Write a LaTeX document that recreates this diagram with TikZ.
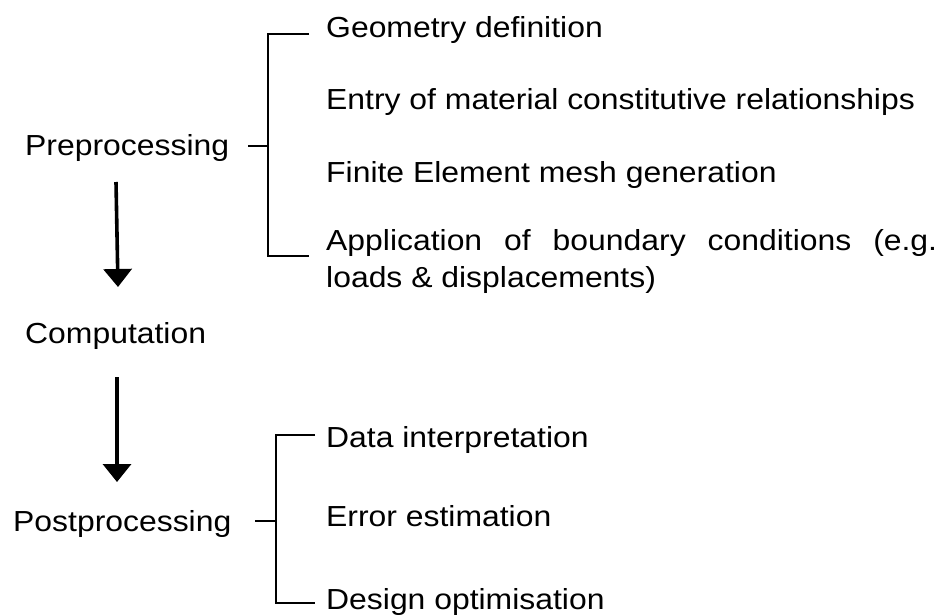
\documentclass[tikz,border=0pt]{standalone}
\usepackage{fontspec}
\setmainfont{Liberation Sans}
\newfontfamily\widef[FakeStretch=1.1]{Liberation Sans}
\usetikzlibrary{arrows.meta}
\begin{document}
\begin{tikzpicture}[x=1pt,y=-1pt,
  stagelbl/.style={anchor=base west,inner sep=0pt,font=\widef\fontsize{29}{37}\selectfont},
  preitem/.style={anchor=base west,inner sep=0pt,font=\widef\fontsize{29}{37}\selectfont},
  postitem/.style={anchor=base west,inner sep=0pt,font=\widef\fontsize{29}{37}\selectfont},
  brk/.style={line width=1.4pt},
  flow/.style={line width=3.6pt,-{Triangle[width=28pt,length=18pt]}}]
\useasboundingbox (0,0) rectangle (942,615);
% stages
\node[stagelbl] (pre) at (25,155) {Preprocessing};
\node[stagelbl] (comp) at (25,343) {Computation};
\node[stagelbl] (post) at (13,531) {Postprocessing};
% preprocessing items
\node[preitem] (geo) at (326,38) {Geometry definition};
\node[preitem] (mat) at (326,110) {Entry of material constitutive relationships};
\node[preitem] (fem) at (326,182) {Finite Element mesh generation};
\node[preitem] (app) at (326,250) {\hbox to 611pt{Application\hfill of\hfill boundary\hfill conditions\hfill (e.g.}};
\node[preitem] (app2) at (326,287) {loads \& displacements)};
% postprocessing items
\node[postitem] (dat) at (326,447) {Data interpretation};
\node[postitem] (err) at (326,526) {Error estimation};
\node[postitem] (des) at (326,609) {Design optimisation};
% brackets
\coordinate (pt0) at (248,146);
\coordinate (pt1) at (268,146);
\coordinate (ptt) at (268,34);
\coordinate (ptb) at (268,256);
\coordinate (ptte) at (309,34);
\coordinate (ptbe) at (309,256);
\draw[brk] (pt0) -- (pt1);
\draw[brk] (ptte) -- (ptt) -- (ptb) -- (ptbe);
\coordinate (qt0) at (255,521);
\coordinate (qt1) at (276,521);
\coordinate (qtt) at (276,435);
\coordinate (qtb) at (276,603);
\coordinate (qtte) at (315,435);
\coordinate (qtbe) at (315,603);
\draw[brk] (qt0) -- (qt1);
\draw[brk] (qtte) -- (qtt) -- (qtb) -- (qtbe);
% flow arrows
\coordinate (a1s) at (116,182);
\coordinate (a1e) at (118,287);
\coordinate (a2s) at (117,377);
\coordinate (a2e) at (117,482);
\draw[flow] (a1s) -- (a1e);
\draw[flow] (a2s) -- (a2e);
\end{tikzpicture}
\end{document}
